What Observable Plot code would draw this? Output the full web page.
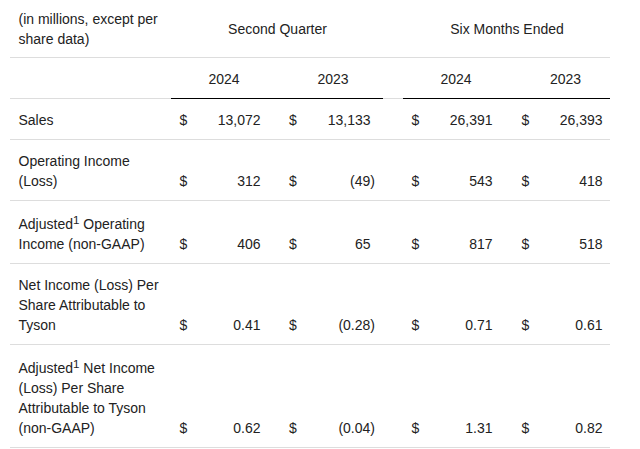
<!DOCTYPE html>
<html>
<head>
<meta charset="utf-8">
<script src="https://cdn.jsdelivr.net/npm/d3@7"></script>
<script src="https://cdn.jsdelivr.net/npm/@observablehq/plot@0.6"></script>
<style>
  html, body { margin: 0; padding: 0; background: #fff; }
  #chart svg { display: block; }
</style>
</head>
<body>
<div id="chart"></div>
<script>
// ---- data ----
const headerNote = "(in millions, except per\nshare data)";
const periodGroups = ["Second Quarter", "Six Months Ended"];
const years = ["2024", "2023", "2024", "2023"];
const rowLabels = [
  "Sales",
  "Operating Income\n(Loss)",
  "Adjusted¹ Operating\nIncome (non-GAAP)",
  "Net Income (Loss) Per\nShare Attributable to\nTyson",
  "Adjusted¹ Net Income\n(Loss) Per Share\nAttributable to Tyson\n(non-GAAP)"
];
const isPerShare = [false, false, false, true, true];
const secondQuarter2024 = [13072, 312, 406, 0.41, 0.62];
const secondQuarter2023 = [13133, -49, 65, -0.28, -0.04];
const sixMonths2024 = [26391, 543, 817, 0.71, 1.31];
const sixMonths2023 = [26393, 418, 518, 0.61, 0.82];
const columns = [secondQuarter2024, secondQuarter2023, sixMonths2024, sixMonths2023];

// ---- layout (styles / positions, kept apart from data) ----
const W = 640, H = 449;
const L = {
  left: 10, right: 610, labelX: 18,
  headerH: 57, yearH: 41, lineH: 20, rowPad: 21, supExtra: 2,
  groupSpans: [[171, 383], [403, 610]],
  yearX: [223.5, 332.5, 455.5, 565],
  dollarX: [179, 288.5, 411, 521],
  valueRight: [260, 370, 492, 602],
  parenW: 4.5,
  font: "'Liberation Sans', Arial, Helvetica, sans-serif",
  size: 14,
  supSize: 11.6,
  ink: "#222",
  grey: "#dddddd"
};

// text measurement for inline superscripts
const ctx = document.createElement("canvas").getContext("2d");
function textW(s, size) { ctx.font = `${size}px ${L.font}`; return ctx.measureText(s).width; }

const fmtInt = d3.format(",");
const fmtDec = d3.format(".2f");
function fmt(v, per) {
  const s = per ? fmtDec(Math.abs(v)) : fmtInt(Math.abs(v));
  return v < 0 ? "(" + s + ")" : s;
}

// compute row geometry and label pieces
const rows = [];
const labelPieces = [];   // main-size text pieces
const supPieces = [];     // superscript pieces
let rowTop = L.headerH + L.yearH;
rowLabels.forEach((lab, i) => {
  const lines = lab.split("\n");
  const n = lines.length;
  const sup = lab.includes("¹");
  const h = L.rowPad + L.lineH * n + (sup ? L.supExtra : 0);
  const center = rowTop + h / 2 + (sup ? 1 : 0);
  lines.forEach((line, j) => {
    const y = center + (j - (n - 1) / 2) * L.lineH;
    if (line.includes("¹")) {
      const [before, after] = line.split("¹");
      const x1 = L.labelX + textW(before, L.size);
      const x2 = x1 + textW("1", L.supSize) + textW(" ", L.size);
      labelPieces.push({x: L.labelX, y, text: before});
      supPieces.push({x: x1, y, text: "1"});
      labelPieces.push({x: x2, y, text: after.trim()});
    } else {
      labelPieces.push({x: L.labelX, y, text: line});
    }
  });
  rows.push({top: rowTop, h, n, center, lastY: center + (n - 1) * L.lineH / 2, bottom: rowTop + h});
  rowTop += h;
});

// cells
const cells = [];
rows.forEach((r, i) => {
  columns.forEach((col, c) => {
    const v = col[i];
    cells.push({y: r.lastY, kind: "$", x: L.dollarX[c], text: "$"});
    cells.push({y: r.lastY, kind: "v", x: L.valueRight[c] + (v < 0 ? L.parenW : 0), text: fmt(v, isPerShare[i])});
  });
});

const greyRules = [L.headerH, L.headerH + L.yearH, ...rows.map(r => r.bottom)];
const headerY = L.headerH / 2 - 1;
const yearY = L.headerH + L.yearH / 2 - 0.5;

const common = {fontFamily: L.font, fontSize: L.size, fill: L.ink, lineHeight: L.lineH / L.size, lineAnchor: "middle"};

const chart = Plot.plot({
  width: W, height: H, margin: 0,
  x: {type: "linear", domain: [0, W], range: [0, W], axis: null},
  y: {type: "linear", domain: [0, H], range: [0, H], axis: null},
  style: {background: "#fff", fontFamily: L.font},
  marks: [
    Plot.ruleY(greyRules, {y: d => d, x1: L.left, x2: L.right, stroke: L.grey, strokeWidth: 1}),
    Plot.ruleY(L.groupSpans, {y: L.headerH + L.yearH, x1: d => d[0], x2: d => d[1], stroke: "#000", strokeWidth: 1}),
    Plot.text([headerNote], {x: L.labelX, y: headerY, text: d => d, textAnchor: "start", ...common}),
    Plot.text(periodGroups, {x: (d, i) => (L.groupSpans[i][0] + L.groupSpans[i][1]) / 2, y: headerY, text: d => d, textAnchor: "middle", ...common}),
    Plot.text(years, {x: (d, i) => L.yearX[i], y: yearY, text: d => d, textAnchor: "middle", ...common}),
    Plot.text(labelPieces, {x: "x", y: "y", text: "text", textAnchor: "start", ...common}),
    Plot.text(supPieces, {x: "x", y: "y", text: "text", textAnchor: "start", ...common, fontSize: L.supSize, dy: -4.2}),
    Plot.text(cells.filter(d => d.kind === "$"), {x: "x", y: "y", text: "text", textAnchor: "start", ...common}),
    Plot.text(cells.filter(d => d.kind === "v"), {x: "x", y: "y", text: "text", textAnchor: "end", ...common})
  ]
});
document.getElementById("chart").appendChild(chart);
</script>
</body>
</html>
